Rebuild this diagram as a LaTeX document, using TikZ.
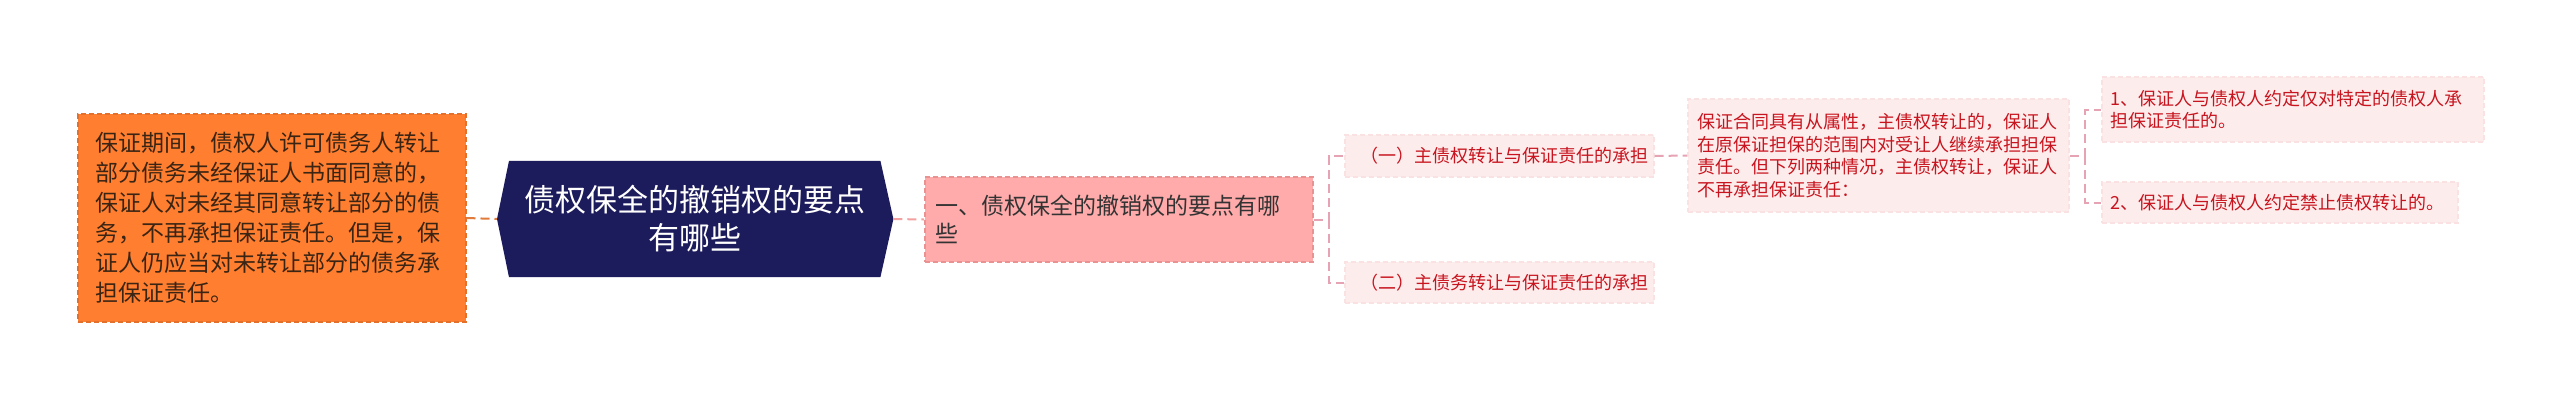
\documentclass[tikz,border=0pt]{standalone}
\usepackage{fontspec}
\setmainfont{Noto Sans CJK SC}
\usetikzlibrary{backgrounds}
\definecolor{orgfill}{HTML}{FF7E2F}
\definecolor{orgline}{HTML}{E3712C}
\definecolor{orgtext}{HTML}{3A2414}
\definecolor{navy}{HTML}{1C1B5B}
\definecolor{pinkfill}{HTML}{FFABAB}
\definecolor{pinkline}{HTML}{E99292}
\definecolor{lightfill}{HTML}{FDECEC}
\definecolor{lightline}{HTML}{FAE2E2}
\definecolor{redtext}{HTML}{C8141E}
\definecolor{conorg}{HTML}{E07B39}
\definecolor{conpink}{HTML}{F2A0A0}
\definecolor{conbr}{HTML}{E6A3B3}
\tikzset{
  box/.style={rectangle, anchor=west, align=left, inner ysep=0pt, line width=1.5pt, dash pattern=on 5pt off 3pt},
  orgbox/.style={box, fill=orgfill, draw=orgline, text=orgtext, font=\fontsize{23pt}{30pt}\selectfont},
  pinkbox/.style={box, fill=pinkfill, draw=pinkline, text=black!80, font=\fontsize{23pt}{28pt}\selectfont},
  lightbox/.style={box, fill=lightfill, draw=lightline, text=redtext, font=\fontsize{18pt}{22.5pt}\selectfont},
  rootbox/.style={rectangle, anchor=west, align=center, inner sep=0pt, text=white, font=\fontsize{31pt}{38pt}\selectfont},
  con/.style={line width=2pt, dash pattern=on 9pt off 5pt},
}
\begin{document}
\begin{tikzpicture}[x=1pt,y=-1pt]
\useasboundingbox (0,0) rectangle (2560,402);

\node[orgbox, text width=352pt, inner xsep=18pt, minimum height=208pt] (left) at (77,218)
  {保证期间，债权人许可债务人转让\\部分债务未经保证人书面同意的，\\保证人对未经其同意转让部分的债\\务，不再承担保证责任。但是，保\\证人仍应当对未转让部分的债务承\\担保证责任。};

\node[rootbox, minimum width=396pt, minimum height=116pt] (root) at (497,219)
  {债权保全的撤销权的要点\\有哪些};
\begin{scope}[on background layer]
\fill[white] (0,0) rectangle (2560,402);
\fill[navy] (root.west) -- ([xshift=12pt]root.north west) -- ([xshift=-13pt]root.north east)
  -- (root.east) -- ([xshift=-13pt]root.south east) -- ([xshift=12pt]root.south west) -- cycle;
\end{scope}

\node[pinkbox, text width=366pt, inner xsep=11pt, minimum height=85pt] (main) at (924,219.5)
  {一、债权保全的撤销权的要点有哪\\些};

\node[lightbox, text width=277pt, inner xsep=16pt, minimum height=42pt] (b1) at (1344,156)
  {（一）主债权转让与保证责任的承担};
\node[lightbox, text width=277pt, inner xsep=16pt, minimum height=41pt] (b2) at (1344,282.5)
  {（二）主债务转让与保证责任的承担};

\node[lightbox, text width=361pt, inner xsep=10pt, minimum height=113pt] (det) at (1687,155.5)
  {保证合同具有从属性，主债权转让的，保证人\\在原保证担保的范围内对受让人继续承担担保\\责任。但下列两种情况，主债权转让，保证人\\不再承担保证责任：};

\node[lightbox, text width=364pt, inner xsep=9pt, minimum height=65pt] (l1) at (2101,109.5)
  {1、保证人与债权人约定仅对特定的债权人承\\担保证责任的。};
\node[lightbox, text width=338pt, inner xsep=9pt, minimum height=41pt] (l2) at (2101,202.5)
  {2、保证人与债权人约定禁止债权转让的。};

\draw[con, conorg] (left.east) -- (root.west);
\draw[con, conpink] (root.east) -- (main.west);
\draw[con, conbr] (main.east) -- ++(15,0) coordinate (m1) |- (b1.west);
\draw[con, conbr] (m1) |- (b2.west);
\draw[con, conbr] (b1.east) -- (det.west);
\draw[con, conbr] (det.east) -- ++(15,0) coordinate (m2) |- (l1.west);
\draw[con, conbr] (m2) |- (l2.west);
\end{tikzpicture}
\end{document}
